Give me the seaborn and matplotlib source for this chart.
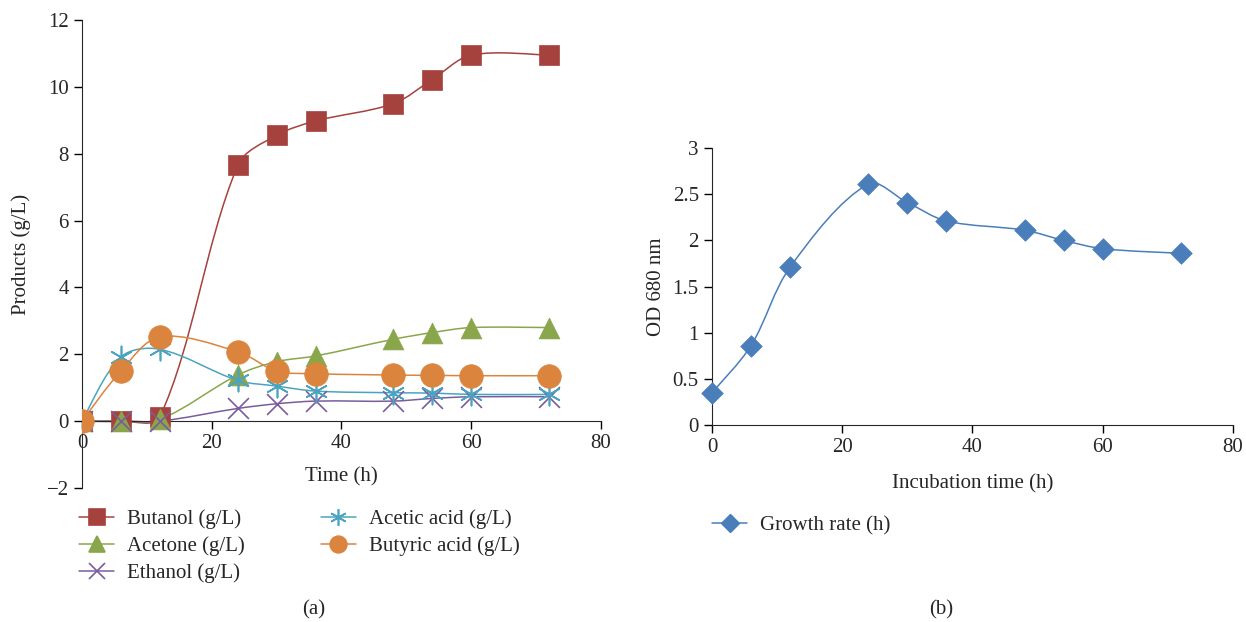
import numpy as np
import pandas as pd
import seaborn as sns
import matplotlib
matplotlib.use("Agg")
import matplotlib.pyplot as plt
from matplotlib.path import Path
from matplotlib.patches import PathPatch
from matplotlib.lines import Line2D

# data
hours = [0, 6, 12, 24, 30, 36, 48, 54, 60, 72]
butanol = [0, 0, 0.12, 7.65, 8.55, 8.98, 9.5, 10.22, 10.95, 10.95]
acetone = [0, 0, 0.05, 1.38, 1.78, 1.95, 2.45, 2.65, 2.8, 2.8]
ethanol = [0, 0, 0, 0.38, 0.52, 0.6, 0.6, 0.68, 0.73, 0.73]
acetic = [0, 1.92, 2.15, 1.22, 1.05, 0.9, 0.85, 0.84, 0.8, 0.8]
butyric = [0, 1.5, 2.52, 2.08, 1.5, 1.42, 1.38, 1.37, 1.36, 1.36]
growth = [0.35, 0.86, 1.71, 2.61, 2.41, 2.21, 2.11, 2.0, 1.91, 1.86]

series_names = ["Butanol (g/L)", "Acetone (g/L)", "Ethanol (g/L)",
                "Acetic acid (g/L)", "Butyric acid (g/L)"]
series_vals = [butanol, acetone, ethanol, acetic, butyric]
colors = ["#A5423D", "#8AA64B", "#7A5C9E", "#4AA4C1", "#DB843D"]
markers = ["s", "^", "x", (6, 2, 0), "o"]
msizes = [15, 15, 15, 16, 17]
blue = "#4A7EBB"
FS = 15

sns.set_style("ticks")
plt.rcParams["font.family"] = ["Liberation Serif", "DejaVu Serif"]
plt.rcParams["font.size"] = FS


def smooth_path(x, y, sx, sy):
    # excel-like smoothed line; tangents weighted by segment length on screen
    x = np.asarray(x, float)
    y = np.asarray(y, float)
    P = np.column_stack([x * sx, y * sy])
    n = len(P)
    tang = []
    for i in range(n):
        a = P[max(i - 1, 0)]
        b = P[min(i + 1, n - 1)]
        tang.append(b - a)
    verts = [(x[0], y[0])]
    codes = [Path.MOVETO]
    for i in range(n - 1):
        d = np.linalg.norm(P[i + 1] - P[i])
        dprev = np.linalg.norm(P[i] - P[max(i - 1, 0)])
        dnext = np.linalg.norm(P[min(i + 2, n - 1)] - P[i + 1])
        f1 = d / (dprev + d) / 3.0 if dprev + d > 0 else 0
        f2 = d / (d + dnext) / 3.0 if d + dnext > 0 else 0
        if i == 0:
            f1 = 1 / 6.0
        if i + 1 == n - 1:
            f2 = 1 / 6.0
        c1 = P[i] + tang[i] * f1
        c2 = P[i + 1] - tang[i + 1] * f2
        verts += [(c1[0] / sx, c1[1] / sy), (c2[0] / sx, c2[1] / sy),
                  (x[i + 1], y[i + 1])]
        codes += [Path.CURVE4] * 3
    return Path(verts, codes)


fig = plt.figure(figsize=(12.46, 6.22), dpi=100)
ax1 = fig.add_axes([0.0658, 0.2154, 0.4165, 0.7524])
ax2 = fig.add_axes([0.5714, 0.3167, 0.4181, 0.4453])

# (a) products
df = pd.DataFrame({"Time": hours * 5,
                   "Value": sum(series_vals, []),
                   "Product": np.repeat(series_names, len(hours))})
handles = []
for name, col, mk, ms in zip(series_names, colors, markers, msizes):
    sub = df[df["Product"] == name]
    ax1.add_patch(PathPatch(smooth_path(sub["Time"], sub["Value"], 6.49, 33.4),
                            facecolor="none", edgecolor=col, lw=1.1, zorder=2))
    filled = mk not in ("x", (6, 2, 0))
    sns.scatterplot(data=sub, x="Time", y="Value", ax=ax1, marker=mk,
                    s=ms ** 2, color=col, edgecolor=col if filled else None,
                    linewidth=1.2 if not filled else 0.5, zorder=3, legend=False)
    handles.append(Line2D([], [], color=col, lw=1.1, marker=mk, markersize=12,
                          markeredgecolor=col, markerfacecolor=col,
                          markeredgewidth=1.2))

ax1.set_xlim(0, 80)
ax1.set_ylim(-2, 12)
ax1.set_xticks(range(0, 81, 20))
ax1.set_yticks(range(-2, 13, 2))
ax1.set_yticklabels(["\u22122"] + [str(v) for v in range(0, 13, 2)])
ax1.spines["bottom"].set_position(("data", 0))
ax1.spines["top"].set_visible(False)
ax1.spines["right"].set_visible(False)
ax1.set_xlabel("Time (h)")
ax1.xaxis.set_label_coords(0.5, 0.045)
ax1.set_ylabel("Products (g/L)")
ax1.yaxis.set_label_coords(-0.098, 0.5)
ax1.tick_params(labelsize=FS, length=6, width=1, color="black")
ax1.legend(handles, series_names, ncol=2, frameon=False, fontsize=FS,
           loc="upper left", bbox_to_anchor=(-0.042, -0.005),
           handlelength=1.7, handletextpad=0.6, columnspacing=3.65,
           labelspacing=0.35)
fig.text(0.252, 0.012, "(a)", ha="center", fontsize=FS)

# (b) growth
gdf = pd.DataFrame({"Incubation time": hours, "OD": growth})
ax2.add_patch(PathPatch(smooth_path(gdf["Incubation time"], gdf["OD"], 6.51, 92.3),
                        facecolor="none", edgecolor=blue, lw=1.1, zorder=2))
sns.scatterplot(data=gdf, x="Incubation time", y="OD", ax=ax2, marker="D",
                s=11 ** 2, color=blue, edgecolor=blue, linewidth=0.5,
                zorder=3, legend=False, clip_on=False)
ax2.set_xlim(0, 80)
ax2.set_ylim(0, 3)
ax2.set_xticks(range(0, 81, 20))
ax2.set_yticks([0, 0.5, 1, 1.5, 2, 2.5, 3])
ax2.set_yticklabels(["0", "0.5", "1", "1.5", "2", "2.5", "3"])
ax2.spines["top"].set_visible(False)
ax2.spines["right"].set_visible(False)
ax2.set_xlabel("Incubation time (h)", labelpad=12)
ax2.set_ylabel("OD 680 nm", labelpad=5)
ax2.tick_params(labelsize=FS, length=6, width=1, color="black")
ax2.legend([Line2D([], [], color=blue, lw=1.1, marker="D", markersize=9,
                   markeredgecolor=blue, markerfacecolor=blue)],
           ["Growth rate (h)"], frameon=False, fontsize=FS,
           loc="upper left", bbox_to_anchor=(-0.036, -0.26),
           handlelength=1.7, handletextpad=0.6)
fig.text(0.755, 0.012, "(b)", ha="center", fontsize=FS)

fig.savefig("out.png", dpi=100)
